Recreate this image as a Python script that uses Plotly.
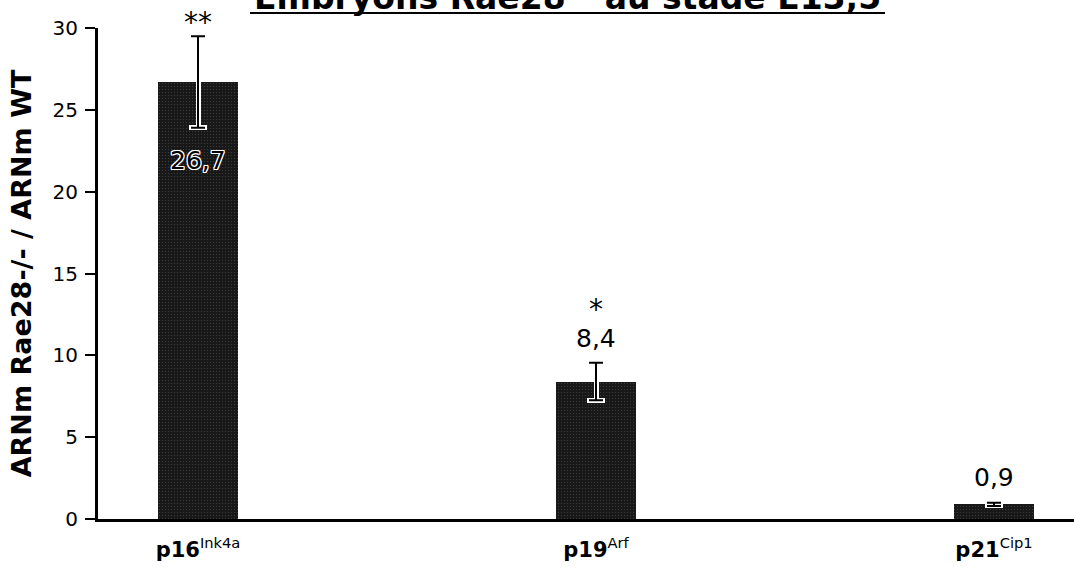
import plotly.graph_objects as go

# Relative mRNA levels (Rae28-/- vs WT) at E13.5
genes = ["<b>p16</b><sup>Ink4a</sup>", "<b>p19</b><sup>Arf</sup>", "<b>p21</b><sup>Cip1</sup>"]
ratios = [26.7, 8.4, 0.9]
errors = [2.8, 1.15, 0.1]
ratio_labels = ["26,7", "8,4", "0,9"]
significance = ["**", "*", ""]
y_ticks = [0, 5, 10, 15, 20, 25, 30]

xpos = list(range(len(genes)))
W, H = 1074, 567
L, R, T, B = 98, 0, 28, 48
plot_w = W - L - R
plot_h = H - T - B


def py_to_paper(py):
    """Convert a pixel row (from page top) to a paper y coordinate."""
    return (T + plot_h - py) / plot_h


def px_to_paper(px):
    return (px - L) / plot_w


fig = go.Figure()

# bars with a white halo behind the error bars
fig.add_trace(go.Bar(
    x=xpos, y=ratios, width=0.2,
    marker=dict(color="#181818", line=dict(width=0),
                pattern=dict(shape=".", fgcolor="#6a6a6a", bgcolor="#181818",
                             size=3, solidity=0.12)),
    error_y=dict(type="data", array=errors, visible=True,
                 color="white", thickness=5, width=9),
    hoverinfo="skip",
))
# black error bars on top
fig.add_trace(go.Scatter(
    x=xpos, y=ratios, mode="markers",
    marker=dict(size=0.1, color="rgba(0,0,0,0)"),
    error_y=dict(type="data", array=errors, visible=True,
                 color="black", thickness=2, width=7),
    hoverinfo="skip",
))

# value labels and significance stars
label_shift = [-78, 43, 27]
star_shift = [60, 72, 0]
halo = ("1px 1px 0 white, -1px -1px 0 white, 1px -1px 0 white, "
        "-1px 1px 0 white, 0 1px 0 white, 0 -1px 0 white, "
        "1px 0 0 white, -1px 0 0 white")
for i, (v, lab) in enumerate(zip(ratios, ratio_labels)):
    inside = i == 0
    fig.add_annotation(
        x=i, y=v, xref="x", yref="y", text=lab, showarrow=False,
        yanchor="middle", yshift=label_shift[i],
        font=dict(family="DejaVu Sans", size=25, color="black",
                  shadow=halo if inside else "none"),
    )
    if significance[i]:
        fig.add_annotation(
            x=i, y=v, xref="x", yref="y", text=significance[i], showarrow=False,
            yanchor="middle", yshift=star_shift[i],
            font=dict(family="DejaVu Sans", size=28, color="black"),
        )

# title (running off the top edge) with its underline
fig.add_annotation(
    x=px_to_paper(567), y=py_to_paper(19),
    xref="paper", yref="paper", showarrow=False, yanchor="bottom",
    text="<b>Embryons Rae28<sup>-/-</sup> au stade E13,5</b>",
    font=dict(family="DejaVu Sans", size=33, color="black"),
)
fig.add_shape(type="line", xref="paper", yref="paper",
              x0=px_to_paper(250), x1=px_to_paper(885),
              y0=py_to_paper(13), y1=py_to_paper(13),
              line=dict(color="black", width=2))

fig.update_layout(
    width=W, height=H,
    margin=dict(l=L, r=R, t=T, b=B, autoexpand=False),
    plot_bgcolor="white", paper_bgcolor="white",
    showlegend=False, bargap=0,
    font=dict(family="DejaVu Sans", color="black"),
)
fig.update_xaxes(
    range=[-100 / 398, (plot_w - 100) / 398],
    tickvals=xpos, ticktext=genes, ticks="",
    tickfont=dict(family="DejaVu Sans", size=21, color="black"),
    showline=True, linecolor="black", linewidth=3,
    showgrid=False, zeroline=False, ticklabelstandoff=10,
)
fig.update_yaxes(
    range=[0, 30], tickvals=y_ticks, ticks="outside", ticklen=10,
    tickwidth=2, tickcolor="black",
    tickfont=dict(family="DejaVu Sans", size=20, color="black"),
    showline=True, linecolor="black", linewidth=3,
    showgrid=False, zeroline=False, ticklabelstandoff=3,
    title=dict(text="<b>ARNm Rae28-/- / ARNm WT</b>", standoff=14,
               font=dict(family="DejaVu Sans", size=27, color="black")),
)

fig.write_html("out.html")
